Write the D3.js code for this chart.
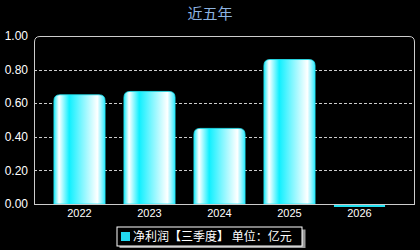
<!DOCTYPE html>
<html>
<head>
<meta charset="utf-8">
<script src="https://cdn.jsdelivr.net/npm/d3@7"></script>
<style>
  body { margin: 0; background: #000; }
  svg { display: block; font-family: "Liberation Sans", Arial, sans-serif; }
</style>
</head>
<body>
<div id="chart"></div>
<script>
// Data
var years = ['2022', '2023', '2024', '2025', '2026'];
var profits = [0.65, 0.67, 0.45, 0.86, -0.01];
var yTicks = [0, 0.2, 0.4, 0.6, 0.8, 1.0];
var titleText = '近五年';
var legendText = '净利润【三季度】 单位：亿元';

var width = 420,
    height = 250,
    margin = { left: 34, right: 5, top: 36, bottom: 46 };

var chartWidth = width - margin.left - margin.right;
var chartHeight = height - margin.top - margin.bottom;

var svg = d3.select('#chart').append('svg')
    .attr('width', width)
    .attr('height', height);

svg.append('rect')
    .attr('width', width)
    .attr('height', height)
    .attr('fill', '#000');

// Bar gradient
var defs = svg.append('defs');
var grad = defs.append('linearGradient')
    .attr('id', 'barGrad')
    .attr('x1', '0%').attr('x2', '100%')
    .attr('y1', '0%').attr('y2', '0%');
[[0, '#22e8f8'], [0.1, '#ffffff'], [0.3, '#10f0ff'], [0.55, '#80f6ff'], [0.85, '#ffffff'], [1, '#30eaff']]
    .forEach(function(s) {
        grad.append('stop').attr('offset', s[0]).attr('stop-color', s[1]);
    });

var shadow = defs.append('filter').attr('id', 'shadow');
shadow.append('feDropShadow')
    .attr('dx', 3).attr('dy', 3).attr('stdDeviation', 0.6)
    .attr('flood-color', '#999').attr('flood-opacity', 1);

// Scales
var xScale = d3.scaleBand()
    .domain(years)
    .range([10.5, 360.5])
    .paddingInner(0.27)
    .paddingOuter(0.135);

var yScale = d3.scaleLinear()
    .domain([0, 1])
    .range([chartHeight, 0]);

var g = svg.append('g')
    .attr('transform', 'translate(' + margin.left + ',' + margin.top + ')');

// Title
svg.append('text')
    .attr('x', width / 2)
    .attr('y', 19)
    .attr('text-anchor', 'middle')
    .attr('fill', '#8db4e2')
    .style('font-family', '"Noto Sans CJK SC", sans-serif')
    .style('font-size', '15px')
    .text(titleText);

// Gridlines
g.append('g').selectAll('line')
    .data(yTicks.filter(function(d) { return d > 0 && d < 1; }))
    .enter().append('line')
    .attr('x1', 0)
    .attr('x2', chartWidth)
    .attr('y1', function(d) { return Math.round(yScale(d)) + 0.5; })
    .attr('y2', function(d) { return Math.round(yScale(d)) + 0.5; })
    .attr('stroke', '#ccc')
    .attr('stroke-dasharray', '3,2');

// Frame with rounded top corners
var r = 6;
g.append('path')
    .attr('d', 'M0.5,' + chartHeight + ' V' + r + ' Q0.5,0.5 ' + r + ',0.5 H' + (chartWidth - r) +
        ' Q' + (chartWidth - 0.5) + ',0.5 ' + (chartWidth - 0.5) + ',' + r + ' V' + chartHeight)
    .attr('fill', 'none')
    .attr('stroke', '#ccc');

// Y axis labels
g.append('g').selectAll('text')
    .data(yTicks)
    .enter().append('text')
    .attr('x', -6)
    .attr('y', function(d) { return yScale(d); })
    .attr('dy', '0.35em')
    .attr('text-anchor', 'end')
    .attr('fill', '#fff')
    .style('font-size', '12px')
    .text(function(d) { return d3.format('.2f')(d); });

// Bars
var br = 6;
g.append('g').selectAll('path')
    .data(profits)
    .enter().append('path')
    .attr('d', function(d, i) {
        var x0 = xScale(years[i]), w = xScale.bandwidth();
        var y0 = yScale(Math.max(d, 0)), y1 = yScale(Math.min(d, 0));
        var h = y1 - y0;
        if (d < 0) {
            return 'M' + x0 + ',' + (y0 + 1) + 'h' + w + 'v' + Math.max(h, 2) + 'h' + (-w) + 'Z';
        }
        var rr = Math.min(br, h / 2);
        return 'M' + x0 + ',' + y1 + ' V' + (y0 + rr) + ' Q' + x0 + ',' + y0 + ' ' + (x0 + rr) + ',' + y0 +
            ' H' + (x0 + w - rr) + ' Q' + (x0 + w) + ',' + y0 + ' ' + (x0 + w) + ',' + (y0 + rr) +
            ' V' + y1 + ' Z';
    })
    .attr('fill', function(d) { return d < 0 ? '#22e0f0' : 'url(#barGrad)'; })
    .attr('stroke', function(d) { return d < 0 ? 'none' : '#20e8f8'; })
    .attr('stroke-width', 0.8);

// Bottom axis line
g.append('line')
    .attr('x1', 0).attr('x2', chartWidth)
    .attr('y1', chartHeight + 0.5).attr('y2', chartHeight + 0.5)
    .attr('stroke', '#ccc');

// X labels
g.append('g').selectAll('text')
    .data(years)
    .enter().append('text')
    .attr('x', function(d) { return xScale(d) + xScale.bandwidth() / 2; })
    .attr('y', chartHeight + 13)
    .attr('text-anchor', 'middle')
    .attr('fill', '#fff')
    .style('font-size', '11px')
    .text(function(d) { return d; });

// Legend
var lg = svg.append('g').attr('transform', 'translate(117,227)');
lg.append('rect')
    .attr('width', 185)
    .attr('height', 19)
    .attr('fill', '#000')
    .attr('stroke', '#fff')
    .attr('filter', 'url(#shadow)');
lg.append('rect')
    .attr('x', 4).attr('y', 5)
    .attr('width', 9).attr('height', 9)
    .attr('fill', '#22d8f0');
lg.append('text')
    .attr('x', 16)
    .attr('y', 14)
    .attr('fill', '#fff')
    .style('font-family', '"Noto Sans CJK SC", sans-serif')
    .style('font-size', '12px')
    .text(legendText);
</script>
</body>
</html>
